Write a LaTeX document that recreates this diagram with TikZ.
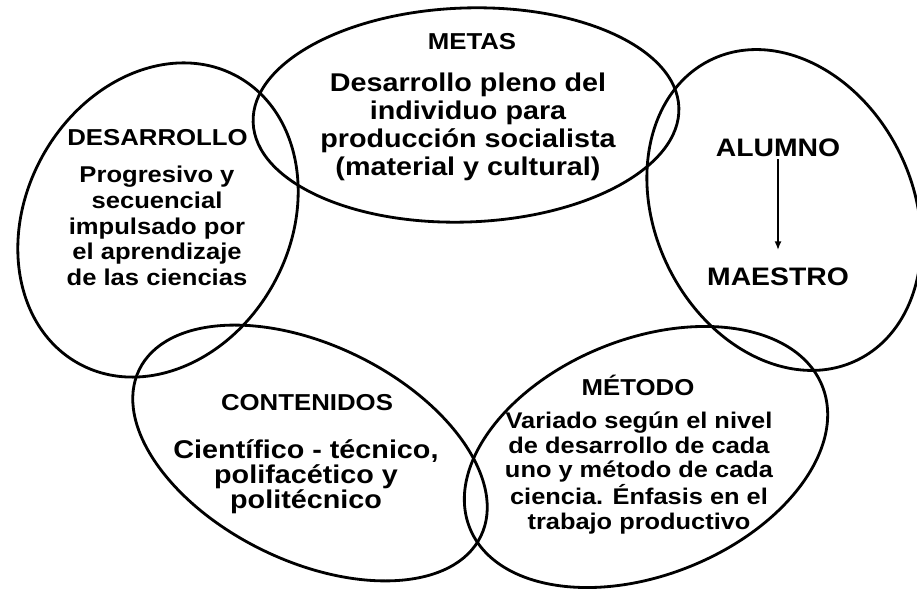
\documentclass[tikz,border=0pt]{standalone}
\usepackage{fontspec}
\setmainfont{Liberation Sans}[FakeStretch=1.12]
\usepackage{tikz}
\usetikzlibrary{shapes.geometric,arrows.meta,positioning}
\tikzset{
    ring/.style={
    ellipse,draw=black,line width=1.6pt,inner sep=0pt
    },
    head/.style={
    font=\bfseries\fontsize{13.1}{13.1}\selectfont,inner sep=1pt
    },
    body/.style={
    font=\bfseries\fontsize{12.9}{14}\selectfont,align=center,inner sep=1pt
    },
    bigbody/.style={
    font=\bfseries\fontsize{14.6}{15.9}\selectfont,align=center,inner sep=1pt
    },
    flow/.style={
    -{Latex[length=5pt,width=4pt]},line width=1pt,shorten >=9pt
    },
}
\begin{document}
\begin{tikzpicture}
   \useasboundingbox (0,0) rectangle (18.34,11.84);

   %rings
   \node[ring,minimum width=8.52cm,minimum height=4.28cm,rotate=2] (metasring) at (9.32,9.54) {};
   \node[ring,minimum width=6.56cm,minimum height=5.28cm,rotate=61] (desring) at (3.16,7.44) {};
   \node[ring,minimum width=6.68cm,minimum height=5.16cm,rotate=116] (alumring) at (15.68,7.64) {};
   \node[ring,minimum width=7.6cm,minimum height=4.32cm,rotate=-26] (contring) at (6.2,2.78) {};
   \node[ring,minimum width=7.6cm,minimum height=4.72cm,rotate=22] (metring) at (12.92,2.7) {};

   %metas
   \node[head] (metas) at (9.44,11.0) {METAS};
   \node[bigbody] (metastxt) at (9.36,9.3) {Desarrollo pleno del\\individuo para\\producción socialista\\(material y cultural)};

   %desarrollo
   \node[head] (des) at (3.15,9.08) {DESARROLLO};
   \node[body,font=\bfseries\fontsize{13}{14.7}\selectfont] (destxt) at (3.14,7.32) {Progresivo y\\secuencial\\impulsado por\\el aprendizaje\\de las ciencias};

   %alumno maestro
   \node[head,font=\bfseries\fontsize{14.4}{14.4}\selectfont] (alumno) at (15.56,8.88) {ALUMNO};
   \node[head,font=\bfseries\fontsize{14.4}{14.4}\selectfont] (maestro) at (15.56,6.3) {MAESTRO};

   %contenidos
   \node[head] (cont) at (6.14,3.78) {CONTENIDOS};
   \node[bigbody,font=\bfseries\fontsize{14.6}{14.2}\selectfont] (conttxt) at (6.12,2.3) {Científico - técnico,\\polifacético y\\politécnico};

   %metodo
   \node[head] (met) at (12.76,4.14) {MÉTODO};
   \node[body] (mettxt) at (12.78,2.38) {Variado según el nivel\\de desarrollo de cada\\uno y método de cada\\ciencia. Énfasis en el\\trabajo productivo};

   \draw[flow] (alumno) -- (maestro);
\end{tikzpicture}
\end{document}
